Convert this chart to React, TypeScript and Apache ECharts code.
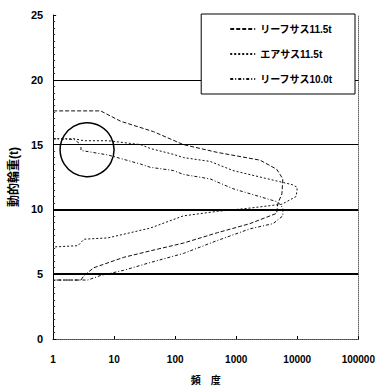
import React, { useEffect, useRef } from "react";
import * as echarts from "echarts";

// Frequency (x, log) / dynamic wheel load in t (y)
const seriesNames = ["リーフサス11.5t", "エアサス11.5t", "リーフサス10.0t"];

const leaf115Freq = [1, 6, 12.8, 44, 136, 487, 2450, 4600, 5800, 5600, 4800, 4600, 1670, 490, 136, 39, 14.3, 4.65, 3.2, 2.86, 1];
const leaf115Load = [17.6, 17.6, 16.8, 16.0, 15.0, 14.4, 13.8, 13.1, 12.35, 11.2, 10.45, 9.7, 8.9, 8.2, 7.4, 6.8, 6.3, 5.5, 4.9, 4.55, 4.55];

const air115Freq = [1, 2.2, 3.2, 7.9, 27, 39, 93, 136, 375, 880, 2450, 8400, 10000, 9600, 5600, 1670, 490, 136, 39, 7.9, 3.2, 2.55, 1];
const air115Load = [15.45, 15.45, 15.3, 15.3, 15.0, 14.7, 14.25, 14.0, 13.7, 13.0, 12.5, 11.9, 11.7, 11.0, 10.4, 10.1, 9.85, 9.5, 8.56, 7.8, 7.7, 7.2, 7.1];

const leaf100Freq = [1, 2.2, 2.86, 2.86, 7.9, 27, 39, 93, 136, 375, 880, 4600, 5200, 5800, 5800, 4000, 1670, 490, 136, 39, 14.3, 6.0, 3.7, 1];
const leaf100Load = [15.45, 15.4, 15.0, 14.55, 14.2, 13.5, 13.25, 13.0, 12.7, 12.35, 11.6, 10.6, 10.4, 10.1, 9.5, 8.9, 8.5, 7.6, 6.6, 5.9, 5.3, 4.9, 4.55, 4.55];

const thinRefLines = [15, 20];
const thickRefLines = [5, 10];
const circleCenter = [3.6, 14.6];

const zip = (xs: number[], ys: number[]) => xs.map((x, i) => [x, ys[i]]);

const FONT = "'Liberation Sans', 'Noto Sans CJK JP', sans-serif";

export default function App() {
  const ref = useRef<HTMLDivElement>(null);
  useEffect(() => {
    document.body.style.margin = "0";
    const chart = echarts.init(ref.current!, null, { renderer: "svg" });
    const dashes = [[4, 2], [2, 2], [3, 2, 1, 2]];
    const datas = [
      zip(leaf115Freq, leaf115Load),
      zip(air115Freq, air115Load),
      zip(leaf100Freq, leaf100Load),
    ];
    chart.setOption({
      animation: false,
      grid: { left: 52, right: 19, top: 15, bottom: 45 },
      xAxis: [
        {
          type: "log",
          logBase: 10,
          min: 1,
          max: 100000,
          name: "頻　度",
          nameLocation: "middle",
          nameGap: 36,
          nameTextStyle: { color: "#000", fontWeight: "bold", fontSize: 10, fontFamily: FONT },
          axisLine: { lineStyle: { color: "#000", width: 1 } },
          axisTick: { inside: true, length: 3, lineStyle: { color: "#000" } },
          axisLabel: { color: "#000", fontWeight: "bold", fontSize: 10, fontFamily: FONT, margin: 15, formatter: (v: number) => String(Math.round(v)) },
          splitLine: { show: false },
          minorTick: { show: false },
        },
        {
          type: "log",
          position: "top",
          min: 1,
          max: 100000,
          axisLine: { show: true, lineStyle: { color: "#666", type: [1, 1] } },
          axisTick: { show: false },
          axisLabel: { show: false },
          splitLine: { show: false },
        },
      ],
      yAxis: [
        {
          type: "value",
          min: 0,
          max: 25,
          interval: 5,
          name: "動的輪重(t)",
          nameLocation: "middle",
          nameGap: 32,
          nameTextStyle: { color: "#000", fontWeight: "bold", fontSize: 12, fontFamily: FONT },
          axisLine: { show: true, lineStyle: { color: "#000", width: 1 } },
          axisTick: { show: true, inside: true, length: 3, lineStyle: { color: "#000" } },
          minorTick: { show: true, splitNumber: 10, length: 2, lineStyle: { color: "#333" } },
          axisLabel: { color: "#000", fontWeight: "bold", fontSize: 11, fontFamily: FONT, margin: 10 },
          splitLine: { show: false },
        },
        {
          type: "value",
          position: "right",
          min: 0,
          max: 25,
          interval: 5,
          axisLine: { show: true, lineStyle: { color: "#666", type: [1, 1] } },
          axisTick: { show: false },
          axisLabel: { show: false },
          splitLine: { show: false },
        },
      ],
      legend: {
        orient: "vertical",
        right: 23,
        top: 14,
        backgroundColor: "#fff",
        borderColor: "#000",
        borderWidth: 1,
        borderRadius: 0,
        padding: [10, 22, 10, 28],
        itemGap: 15,
        itemWidth: 25,
        itemHeight: 10,
        z: 10,
        itemStyle: { opacity: 0 },
        textStyle: { color: "#000", fontWeight: "bold", fontSize: 10, fontFamily: FONT },
        data: seriesNames,
      },
      series: datas.map((d, i) => ({
        name: seriesNames[i],
        type: "line",
        data: d,
        symbol: "none",
        showSymbol: false,
        z: 3,
        lineStyle: { color: "#111", width: 1, type: dashes[i] },
        itemStyle: { color: "#111" },
        markLine:
          i === 0
            ? {
                silent: true,
                symbol: "none",
                label: { show: false },
                lineStyle: { color: "#000", type: "solid", width: 1 },
                data: [
                  ...thinRefLines.map((v) => ({ yAxis: v })),
                  ...thickRefLines.map((v) => ({ yAxis: v, lineStyle: { width: 1.8 } })),
                ],
              }
            : undefined,
      })),
    });
    const c = chart.convertToPixel({ xAxisIndex: 0, yAxisIndex: 0 }, circleCenter) as number[];
    chart.setOption({
      graphic: [
        {
          type: "circle",
          shape: { cx: c[0], cy: c[1], r: 27 },
          style: { fill: "none", stroke: "#000", lineWidth: 1.5 },
          z: 20,
        },
      ],
    });
    return () => chart.dispose();
  }, []);
  return <div ref={ref} style={{ width: 378, height: 390 }} />;
}
